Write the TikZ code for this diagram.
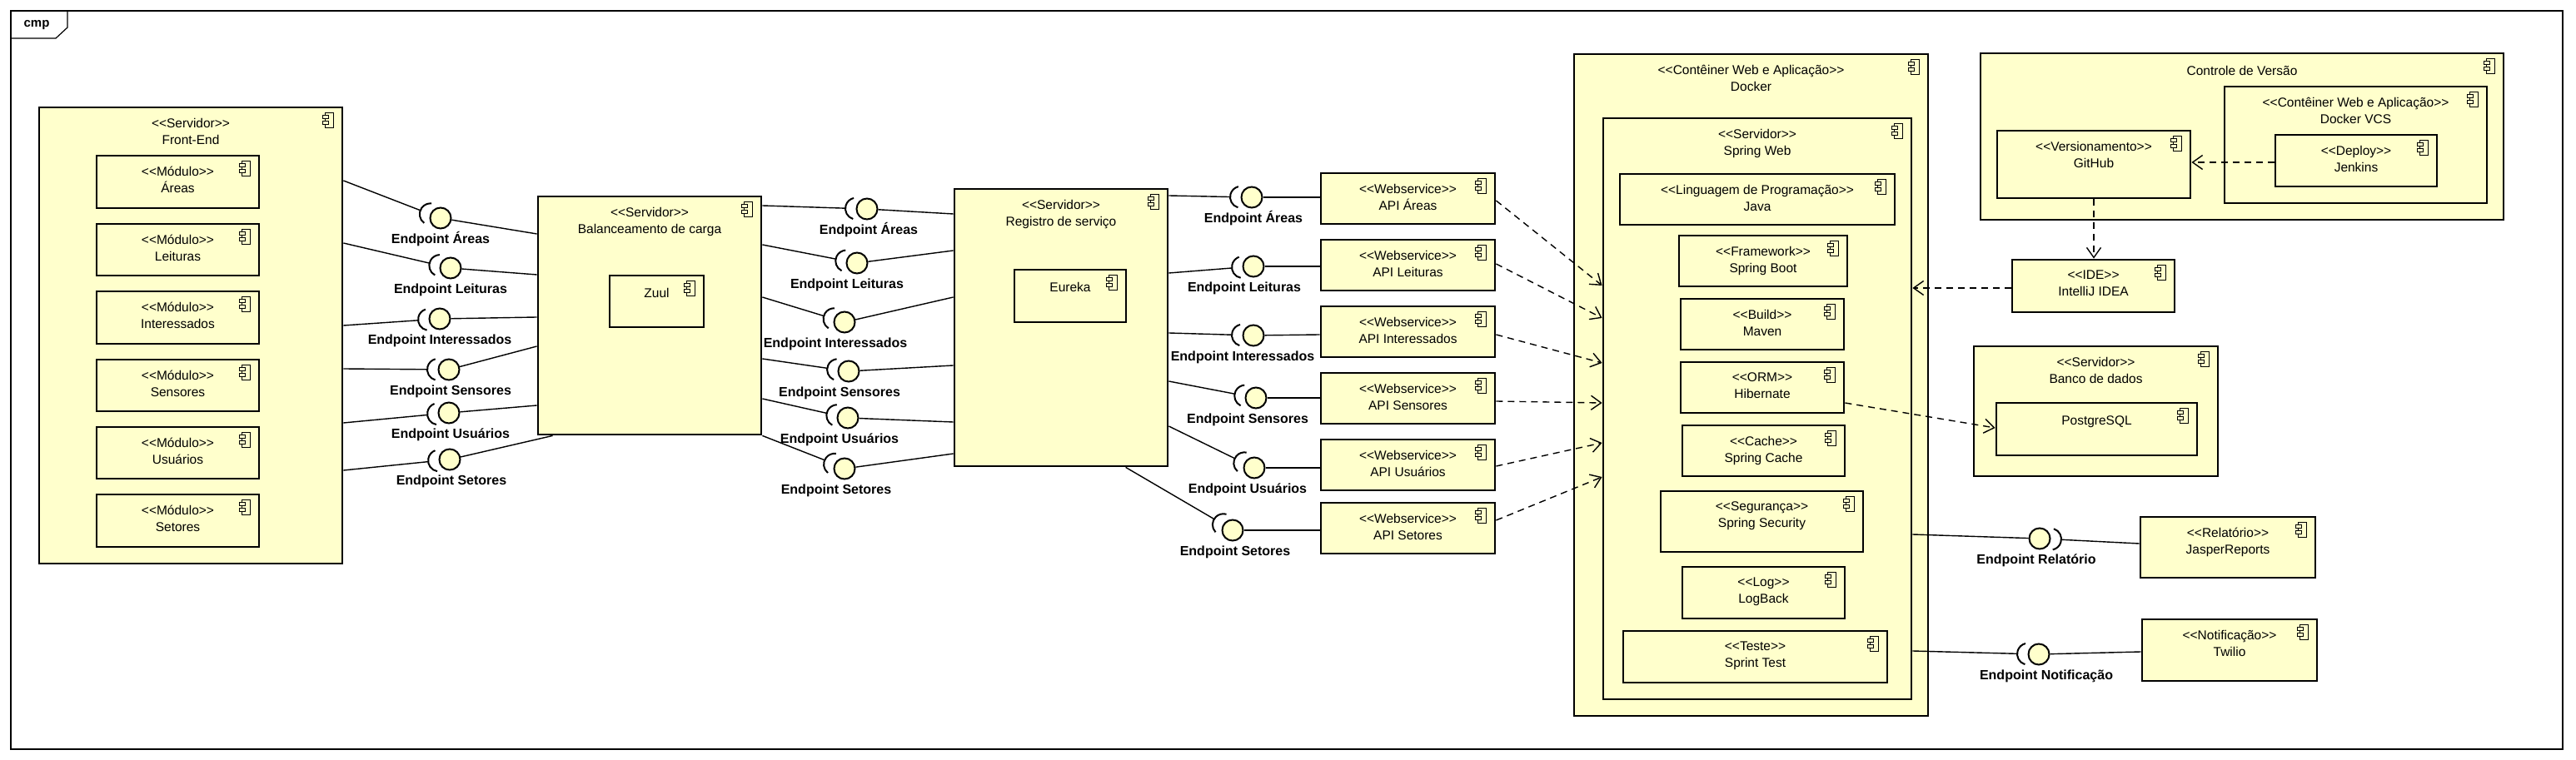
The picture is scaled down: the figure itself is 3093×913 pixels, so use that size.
\documentclass[tikz,border=0pt]{standalone}
\usepackage{fontspec}
\setmainfont{Liberation Sans}
\usetikzlibrary{positioning,calc,fit,arrows.meta}

\definecolor{compfill}{RGB}{255,255,204}
\newcommand{\st}[1]{<\kern0pt<#1>\kern0pt>}
\newcommand{\txtsize}{\fontsize{7.75pt}{10pt}\selectfont}
\newcommand{\eptxt}{\bfseries\fontsize{8pt}{10pt}\selectfont}

\tikzset{
  comp/.style={draw, line width=1.4pt, fill=compfill, inner sep=0pt},
  comptext/.style={anchor=north, align=center, inner sep=0pt, font=\txtsize, execute at begin node=\strut},
  iconline/.style={line width=0.6pt, fill=compfill},
  ball/.style={circle, draw, line width=1pt, fill=compfill, minimum size=12.5pt, inner sep=0pt},
  socketline/.style={line width=1pt},
  eplabel/.style={font=\eptxt, inner sep=0pt, text height=6pt, text depth=1.7pt},
  wire/.style={line width=0.7pt},
  dep/.style={line width=0.7pt, dash pattern=on 4pt off 3pt, -{Straight Barb[length=6pt,width=8.5pt]}},
  frameline/.style={line width=0.6pt}
}

\newcommand{\compicon}[1]{%
  \draw[iconline] ($(#1.north east)+(-22,8)$) rectangle ($(#1.north east)+(-12,26)$);
  \draw[iconline] ($(#1.north east)+(-25,11)$) rectangle ($(#1.north east)+(-18,15)$);
  \draw[iconline] ($(#1.north east)+(-25,18)$) rectangle ($(#1.north east)+(-18,22)$);}

\newcommand{\umlcomp}[4]{%
  \node[comp, fit={#2 #3}] (#1) {};
  \node[comptext] (t#1) at ($(#1.north)+(0,14)$) {#4};
  \compicon{#1}}

% ball, socket, label and the two wires of one interface
\newcommand{\iface}[7]{%
  \node[ball] (#1) at (#2) {};
  \node[eplabel, below=2.5pt of #1, xshift=#7] (l#1) {#6};
  \coordinate (s#1) at ($(#1)+(#3:26)$);
  \draw[socketline] ($(#1)+(#3:13)$) ++(#3-75:13) arc[start angle=#3-75, end angle=#3+75, radius=13];
  \draw[wire] (#4) -- (s#1);
  \draw[wire] (#1) -- (#5);}

\begin{document}
\begin{tikzpicture}[x=0.5pt,y=0.5pt,yscale=-1]
\useasboundingbox (0,0) rectangle (3093,913);

\draw[frameline] (13,13) rectangle (3077,900);
\draw[frameline] (13,46) -- (67,46) -- (81,33) -- (81,13);
\node[font=\bfseries\fontsize{7.5pt}{9pt}\selectfont, inner sep=0pt] (cmptag) at (44,30) {cmp};

\umlcomp{fe}{(47,129)}{(411,677)}{\st{Servidor}\\Front-End}
\umlcomp{mareas}{(116,187)}{(311,250)}{\st{Módulo}\\Áreas}
\umlcomp{mleit}{(116,269)}{(311,331)}{\st{Módulo}\\Leituras}
\umlcomp{minter}{(116,350)}{(311,413)}{\st{Módulo}\\Interessados}
\umlcomp{msens}{(116,432)}{(311,494)}{\st{Módulo}\\Sensores}
\umlcomp{musu}{(116,513)}{(311,575)}{\st{Módulo}\\Usuários}
\umlcomp{mset}{(116,594)}{(311,657)}{\st{Módulo}\\Setores}

\umlcomp{bal}{(646,236)}{(914,522)}{\st{Servidor}\\Balanceamento de carga}
\umlcomp{zuul}{(732,331)}{(845,393)}{Zuul}

\umlcomp{reg}{(1146,227)}{(1402,560)}{\st{Servidor}\\Registro de serviço}
\umlcomp{eureka}{(1218,324)}{(1352,387)}{Eureka}

\umlcomp{api1}{(1586,208)}{(1795,269)}{\st{Webservice}\\API Áreas}
\umlcomp{api2}{(1586,288)}{(1795,349)}{\st{Webservice}\\API Leituras}
\umlcomp{api3}{(1586,368)}{(1795,429)}{\st{Webservice}\\API Interessados}
\umlcomp{api4}{(1586,448)}{(1795,509)}{\st{Webservice}\\API Sensores}
\umlcomp{api5}{(1586,528)}{(1795,589)}{\st{Webservice}\\API Usuários}
\umlcomp{api6}{(1586,604)}{(1795,665)}{\st{Webservice}\\API Setores}

\umlcomp{docker}{(1890,65)}{(2315,860)}{\st{Contêiner Web e Aplicação}\\Docker}
\umlcomp{spw}{(1925,142)}{(2295,840)}{\st{Servidor}\\Spring Web}
\umlcomp{java}{(1945,209)}{(2275,270)}{\st{Linguagem de Programação}\\Java}
\umlcomp{boot}{(2016,283)}{(2218,344)}{\st{Framework}\\Spring Boot}
\umlcomp{maven}{(2018,359)}{(2214,420)}{\st{Build}\\Maven}
\umlcomp{hib}{(2018,435)}{(2214,496)}{\st{ORM}\\Hibernate}
\umlcomp{cache}{(2020,511)}{(2215,572)}{\st{Cache}\\Spring Cache}
\umlcomp{sec}{(1994,590)}{(2237,663)}{\st{Segurança}\\Spring Security}
\umlcomp{logb}{(2020,681)}{(2215,743)}{\st{Log}\\LogBack}
\umlcomp{test}{(1949,758)}{(2266,820)}{\st{Teste}\\Sprint Test}

\umlcomp{vcs}{(2378,64)}{(3006,264)}{Controle de Versão}
\umlcomp{dvcs}{(2671,104)}{(2986,244)}{\st{Contêiner Web e Aplicação}\\Docker VCS}
\umlcomp{jenkins}{(2732,162)}{(2926,224)}{\st{Deploy}\\Jenkins}
\umlcomp{github}{(2398,157)}{(2630,238)}{\st{Versionamento}\\GitHub}
\umlcomp{ide}{(2416,312)}{(2611,375)}{\st{IDE}\\IntelliJ IDEA}

\umlcomp{db}{(2370,416)}{(2663,572)}{\st{Servidor}\\Banco de dados}
\umlcomp{pg}{(2397,484)}{(2638,547)}{PostgreSQL}
\umlcomp{jasper}{(2570,621)}{(2780,694)}{\st{Relatório}\\JasperReports}
\umlcomp{twilio}{(2572,744)}{(2782,818)}{\st{Notificação}\\Twilio}

\iface{a1}{529,262}{200.9}{fe.east |- 0,217}{bal.west |- 0,281}{Endpoint Áreas}{0pt}
\iface{a2}{541,322}{193}{fe.east |- 0,292}{bal.west |- 0,330}{Endpoint Leituras}{0pt}
\iface{a3}{528,383}{176}{fe.east |- 0,391}{bal.west |- 0,381}{Endpoint Interessados}{0pt}
\iface{a4}{539,444}{180.4}{fe.east |- 0,443}{bal.west |- 0,416}{Endpoint Sensores}{1pt}
\iface{a5}{539,496}{174.6}{fe.east |- 0,508}{bal.west |- 0,487}{Endpoint Usuários}{1pt}
\iface{a6}{540,552}{174.2}{fe.east |- 0,565}{$(bal.south west)+(19,0)$}{Endpoint Setores}{1pt}

\iface{b1}{1041,251}{181.8}{bal.east |- 0,247}{reg.west |- 0,257}{Endpoint Áreas}{1pt}
\iface{b2}{1029,316}{190.8}{bal.east |- 0,294}{reg.west |- 0,301}{Endpoint Leituras}{-6pt}
\iface{b3}{1014,387}{196.7}{bal.east |- 0,357}{reg.west |- 0,357}{Endpoint Interessados}{-5.5pt}
\iface{b4}{1019,446}{188.1}{bal.east |- 0,431}{reg.west |- 0,439}{Endpoint Sensores}{-5.5pt}
\iface{b5}{1018,502}{192.5}{bal.east |- 0,479}{reg.west |- 0,507}{Endpoint Usuários}{-5pt}
\iface{b6}{1014,563}{203.3}{bal.south east}{reg.west |- 0,545}{Endpoint Setores}{-5pt}

\iface{c1}{1503,237}{181}{reg.east |- 0,235}{api1.west |- 0,237}{Endpoint Áreas}{1pt}
\iface{c2}{1505,320}{175.6}{reg.east |- 0,328}{api2.west |- 0,320}{Endpoint Leituras}{-5.5pt}
\iface{c3}{1505,403}{181.7}{reg.east |- 0,400}{api3.west |- 0,402}{Endpoint Interessados}{-6.5pt}
\iface{c4}{1508,478}{190.7}{reg.east |- 0,458}{api4.west |- 0,478}{Endpoint Sensores}{-5pt}
\iface{c5}{1506,562}{205.7}{reg.east |- 0,512}{api5.west |- 0,562}{Endpoint Usuários}{-4pt}
\iface{c6}{1480,637}{211.2}{$(reg.south west)+(207,0)$}{api6.west |- 0,637}{Endpoint Setores}{1.5pt}

\iface{rel}{2449,647}{2.8}{jasper.west |- 0,653}{spw.east |- 0,642}{Endpoint Relatório}{-2pt}
\iface{ntf}{2448,786}{181.5}{spw.east |- 0,782}{twilio.west |- 0,783}{Endpoint Notificação}{4.5pt}

\draw[dep] (api1.east |- 0,241) -- (spw.west |- 0,343);
\draw[dep] (api2.east |- 0,317) -- (spw.west |- 0,382);
\draw[dep] (api3.east |- 0,402) -- (spw.west |- 0,436);
\draw[dep] (api4.east |- 0,482) -- (spw.west |- 0,484);
\draw[dep] (api5.east |- 0,560) -- (spw.west |- 0,532);
\draw[dep] (api6.east |- 0,625) -- (spw.west |- 0,573);
\draw[dep] (jenkins.west |- 0,195) -- (github.east |- 0,195);
\draw[dep] (github.south -| 2514,0) -- (ide.north -| 2514,0);
\draw[dep] (ide.west |- 0,346) -- (spw.east |- 0,346);
\draw[dep] (hib.east |- 0,484) -- (pg.west |- 0,514);
\end{tikzpicture}
\end{document}
